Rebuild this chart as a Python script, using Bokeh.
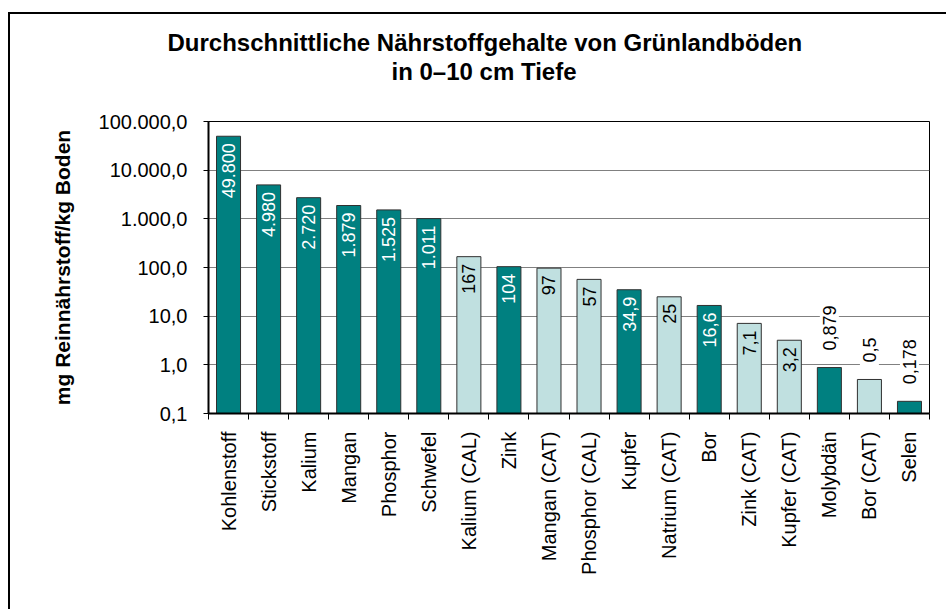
import math
from bokeh.plotting import figure
from bokeh.models import FixedTicker, Range1d, Title, ColumnDataSource, LinearAxis
from bokeh.core.properties import value
from bokeh.embed import file_html
from bokeh.resources import INLINE

# ---- data ----
nutrients = ["Kohlenstoff", "Stickstoff", "Kalium", "Mangan", "Phosphor", "Schwefel",
             "Kalium (CAL)", "Zink", "Mangan (CAT)", "Phosphor (CAL)", "Kupfer",
             "Natrium (CAT)", "Bor", "Zink (CAT)", "Kupfer (CAT)", "Molybdän",
             "Bor (CAT)", "Selen"]
contents = [49800, 4980, 2720, 1879, 1525, 1011, 167, 104, 97, 57, 34.9, 25,
            16.6, 7.1, 3.2, 0.879, 0.5, 0.178]
value_labels = ["49.800", "4.980", "2.720", "1.879", "1.525", "1.011", "167", "104",
                "97", "57", "34,9", "25", "16,6", "7,1", "3,2", "0,879", "0,5", "0,178"]
y_ticks = [0.1, 1, 10, 100, 1000, 10000, 100000]
y_tick_labels = ["0,1", "1,0", "10,0", "100,0", "1.000,0", "10.000,0", "100.000,0"]

FONT = "Liberation Sans"
DARK = "#008080"
LIGHT = "#C0E0E0"

n = len(nutrients)
xs = [i + 0.5 for i in range(n)]
extract = ["(" in s for s in nutrients]
colors = [LIGHT if e else DARK for e in extract]

inside = [v >= 1 for v in contents]
src_in = ColumnDataSource(dict(
    x=[x for x, f in zip(xs, inside) if f],
    y=[v for v, f in zip(contents, inside) if f],
    t=[t for t, f in zip(value_labels, inside) if f],
    c=["black" if e else "white" for e, f in zip(extract, inside) if f],
))
src_out = ColumnDataSource(dict(
    x=[x for x, f in zip(xs, inside) if not f],
    y=[v for v, f in zip(contents, inside) if not f],
    t=[t for t, f in zip(value_labels, inside) if not f],
))
bars = ColumnDataSource(dict(x=xs, top=contents, color=colors))

p = figure(width=938, height=597, x_range=Range1d(0, n), y_range=Range1d(0.1, 100000),
           y_axis_type="log", x_axis_type=None, output_backend="svg",
           toolbar_location=None, min_border_left=198, min_border_right=19,
           min_border_top=107, min_border_bottom=198,
           styles={"border-left": "2px solid black", "border-top": "2px solid black",
                   "margin-top": "12px", "margin-left": "8px"})
p.outline_line_color = "black"
p.outline_line_width = 1
p.background_fill_color = "white"
p.border_fill_color = "white"

p.vbar(x="x", top="top", bottom=0.1, width=0.6, fill_color="color",
       line_color="#303030", line_width=1, source=bars)

p.text(x="x", y="y", text="t", source=src_in, angle=math.pi / 2,
       text_align="right", text_baseline="middle", y_offset=7,
       text_color="c", text_font=value(FONT), text_font_size="18px")
p.text(x="x", y="y", text="t", source=src_out, angle=math.pi / 2,
       text_align="left", text_baseline="middle", y_offset=-14,
       text_color="black", text_font=value(FONT), text_font_size="18px",
       background_fill_color="white", padding=3)

# y axis
yt = FixedTicker(ticks=y_ticks, minor_ticks=[])
ya = p.yaxis[0]
ya.ticker = yt
ya.major_label_overrides = dict(zip(y_ticks, y_tick_labels))
ya.major_label_text_font = FONT
ya.major_label_text_font_size = "20px"
ya.major_label_text_color = "black"
ya.major_tick_in = 0
ya.major_tick_out = 5
ya.minor_tick_in = 0
ya.minor_tick_out = 0
ya.major_label_standoff = 16
ya.axis_line_width = 2
ya.axis_line_color = "black"
ya.major_tick_line_color = "black"
ya.axis_label = "mg Reinnährstoff/kg Boden"
ya.axis_label_text_font = FONT
ya.axis_label_text_font_style = "bold"
ya.axis_label_text_font_size = "21px"
ya.axis_label_text_color = "black"
ya.axis_label_standoff = 22

p.ygrid[0].ticker = yt
p.ygrid.grid_line_color = "#808080"
p.ygrid.grid_line_width = 1

# x axis
xa = LinearAxis(ticker=FixedTicker(ticks=xs, minor_ticks=list(range(n + 1))),
                major_label_overrides=dict(zip(xs, nutrients)),
                major_label_orientation=math.pi / 2,
                major_tick_line_color=None,
                minor_tick_in=0, minor_tick_out=6,
                minor_tick_line_color="black",
                axis_line_width=2, axis_line_color="black",
                major_label_text_font=FONT, major_label_text_font_size="20px",
                major_label_text_color="black", major_label_standoff=12)
p.add_layout(xa, "below")

# titles (first added sits nearest the plot)
spacer = Title(text=" ", text_font_size="1px", standoff=34)
t2 = Title(text="in 0–10 cm Tiefe", align="left", offset=183,
           text_font=FONT, text_font_size="24px", text_font_style="bold",
           text_color="black", standoff=0)
t1 = Title(text="Durchschnittliche Nährstoffgehalte von Grünlandböden", align="left",
           offset=-41, text_font=FONT, text_font_size="24px", text_font_style="bold",
           text_color="black", standoff=0)
p.add_layout(spacer, "above")
p.add_layout(t2, "above")
p.add_layout(t1, "above")

open("out.html", "w").write(file_html(p, INLINE))
